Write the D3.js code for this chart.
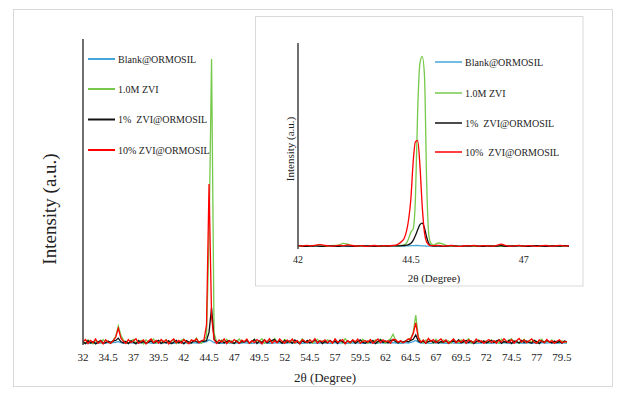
<!DOCTYPE html>
<meta charset="utf-8">
<style>
body { margin: 0; background: #fff; }
svg text { font-family: "Liberation Serif", "Times New Roman", Times, serif; fill: #222; white-space: pre; }
.frame { fill: #fff; stroke: #d9d9d9; stroke-width: 1; }
.axis-line { stroke: #404040; stroke-width: 1.5; }
.series { fill: none; stroke-width: 1.3; }
</style>
<svg width="619" height="398"></svg>
<script src="https://d3js.org/d3.v7.min.js"></script>
<script>

// series names and colours (legend order)
var seriesNames = ["Blank@ORMOSIL", "1.0M ZVI", "1%  ZVI@ORMOSIL", "10% ZVI@ORMOSIL"];
var insetNames  = ["Blank@ORMOSIL", "1.0M ZVI", "1%  ZVI@ORMOSIL", "10%  ZVI@ORMOSIL"];
var seriesColors = ["#45a6d9", "#76c94a", "#111111", "#ff0000"];
var serif = "'Liberation Serif', 'Times New Roman', serif";

// main pattern: 2theta from 32 to 80, step 0.25 deg
var mainStep = 0.25;
var mainTicks = [32, 34.5, 37, 39.5, 42, 44.5, 47, 49.5, 52, 54.5, 57, 59.5, 62, 64.5, 67, 69.5, 72, 74.5, 77, 79.5];

var blank = [
  7,8,7,6,7,8,7,7,6,7,8,7,8,9,12,8,
  7,6,7,8,7,7,6,8,7,7,8,7,6,7,8,7,
  7,8,7,7,6,7,8,9,7,7,6,7,8,7,7,8,
  9,12,18,14,8,7,7,6,7,8,7,7,8,7,6,7,
  8,7,7,6,7,8,7,7,8,7,6,7,7,8,7,7,
  6,7,8,7,7,8,7,6,7,7,8,7,7,6,7,8,
  7,7,6,7,8,7,7,8,7,6,7,7,8,7,7,6,
  7,8,7,7,6,7,8,7,7,8,7,8,7,7,6,7,
  8,7,9,12,16,10,7,7,8,7,6,7,7,8,7,7,
  6,7,8,7,7,6,7,8,7,7,8,7,6,7,7,8,
  7,7,6,7,8,7,7,8,7,6,7,7,8,7,7,6,
  7,8,7,7,6,7,8,7,7,8,7,7,6,7,8,7,
  7];

var zvi = [
  12,6,18,9,4,16,11,7,19,8,14,5,17,30,66,35,
  18,8,5,14,20,7,11,16,4,18,9,13,21,6,12,16,
  8,19,6,13,18,5,11,16,21,9,6,17,12,24,10,6,
  15,30,380,1000,40,12,7,18,10,20,8,15,5,13,21,9,
  13,18,6,11,20,9,15,22,6,13,18,8,23,10,15,6,
  19,12,8,17,6,14,10,21,12,7,18,6,13,20,10,15,
  8,18,12,6,20,10,15,7,22,12,6,18,10,15,8,20,
  12,6,15,10,18,8,20,12,6,15,22,38,17,8,12,10,
  15,20,24,45,105,30,12,8,18,10,15,6,20,12,8,18,
  10,15,6,20,12,8,18,10,15,22,6,13,8,18,10,15,
  12,8,18,10,15,6,20,12,8,18,22,10,15,6,12,20,
  8,15,10,18,6,12,20,8,15,10,18,6,13,8,15,10,
  9];

var zvi1 = [
  10,5,15,7,12,4,10,16,6,8,13,9,14,16,24,12,
  7,13,5,15,10,4,16,8,12,6,10,15,7,12,16,5,
  12,7,15,5,10,16,7,12,4,15,10,7,16,12,9,14,
  13,15,45,130,20,10,6,14,7,12,16,9,5,14,7,12,
  10,16,7,12,19,5,14,9,18,7,12,16,19,9,14,6,
  16,9,14,6,18,11,5,14,9,16,7,12,18,9,14,5,
  12,7,16,9,14,5,18,11,7,14,9,16,6,12,18,9,
  6,14,9,16,5,12,18,9,14,7,16,18,12,7,14,9,
  14,11,16,20,35,14,9,14,6,12,16,9,14,6,12,9,
  16,6,12,14,9,18,7,12,16,9,14,5,12,16,9,14,
  7,12,16,9,14,18,6,12,9,16,5,14,12,7,16,9,
  14,9,6,16,12,5,14,9,16,12,7,14,9,12,6,14,
  11];

var zvi10 = [
  11,19,5,16,8,21,6,14,4,18,10,6,15,28,59,25,
  13,5,19,8,15,22,6,12,18,4,14,21,8,16,6,19,
  11,18,4,14,21,8,16,6,19,11,4,18,13,22,8,15,
  18,70,563,100,18,6,18,10,21,5,15,8,19,12,6,17,
  11,21,6,15,8,19,13,4,18,10,22,6,15,8,21,13,
  6,18,10,21,8,15,4,19,13,8,18,10,22,6,15,11,
  18,8,15,6,21,10,13,19,4,15,8,18,11,21,6,13,
  15,10,19,6,13,21,8,18,11,15,6,20,19,10,15,8,
  13,21,20,40,77,25,10,18,6,23,13,19,8,15,21,10,
  18,6,13,21,8,15,10,19,6,18,13,8,21,11,15,6,
  13,19,8,15,6,18,10,22,13,8,19,6,15,23,10,18,
  8,15,21,10,6,18,13,8,19,10,15,6,13,18,8,11,
  12];

// inset: zoom on the main peak, 42 - 48 deg
var insetTheta = [
  42,42.1,42.2,42.3,42.4,42.5,42.6,42.7,42.8,42.9,43,43.1,43.2,43.3,43.4,43.5,43.6,43.7,43.8,43.9,44,44.1,44.2,44.3,
  44.35,44.4,44.45,44.5,44.55,44.6,44.65,44.7,44.75,44.8,44.85,44.9,44.95,
  45,45.1,45.2,45.3,45.4,45.5,45.6,45.7,45.8,45.9,46,46.1,46.2,46.3,46.4,46.5,46.6,46.7,46.8,46.9,47,47.1,47.2,47.3,47.4,47.5,47.6,47.7,47.8,47.9,48];
var insetTicks = [42, 44.5, 47];

var insetBlank = [
  11,10,10,9,10,10,11,10,9,10,10,10,9,10,10,11,10,9,10,10,10,9,10,10,
  10,11,11,12,12,13,13,12,11,11,10,10,10,
  10,10,9,10,10,11,10,10,9,10,10,10,11,10,9,10,10,10,9,10,10,11,10,10,9,10,10,10,9,10,10];
var insetZvi = [
  10,9,11,10,12,10,9,11,13,15,24,20,12,10,11,9,10,12,10,11,10,12,11,14,
  16,25,50,83,100,260,720,965,1000,900,330,60,22,
  15,26,22,12,10,11,9,10,12,10,9,11,10,12,10,9,11,10,12,11,9,10,12,10,11,9,10,12,10,11,10];
var insetZvi1 = [
  14,10,9,10,11,9,10,12,10,9,11,10,9,10,12,11,10,9,10,11,10,12,11,12,
  13,15,18,25,40,65,95,122,130,105,55,22,12,
  10,11,9,10,12,10,9,11,10,12,10,9,11,10,10,12,9,11,10,12,10,9,11,12,10,9,11,10,10,12,10];
var insetZvi10 = [
  12,10,14,11,15,18,13,11,10,14,12,16,13,10,12,9,11,13,10,12,11,13,18,35,
  50,85,150,260,450,555,560,430,220,80,30,16,12,
  12,14,10,11,13,10,9,12,11,13,10,12,11,10,14,20,12,10,11,13,10,12,11,9,12,13,10,11,14,10,12];

var svg = d3.select("svg");

// outer chart frame
svg.append("rect").attr("class", "frame")
    .attr("x", 13.5).attr("y", 9.5).attr("width", 599).attr("height", 377);

/** main chart **/
var x = d3.scaleLinear().domain([32, 80]).range([83, 567]);
var y = d3.scaleLinear().domain([0, 1070]).range([345, 39]);

function toPoints(vals) {
  return vals.map(function(v, i) { return [32 + i * mainStep, v]; });
}

var mainSeries = [blank, zvi, zvi1, zvi10].map(toPoints);

var line = d3.line()
    .x(function(d) { return x(d[0]); })
    .y(function(d) { return y(d[1]); });

var g = svg.append("g");

g.selectAll("path.series")
    .data(mainSeries)
    .enter().append("path")
    .attr("class", "series")
    .attr("stroke", function(d, i) { return seriesColors[i]; })
    .attr("d", line);

g.append("line").attr("class", "axis-line")
    .attr("x1", x(32)).attr("x2", x(32)).attr("y1", y(1070)).attr("y2", y(0));

g.selectAll("text.tick")
    .data(mainTicks)
    .enter().append("text")
    .attr("class", "tick")
    .attr("x", function(d) { return x(d); })
    .attr("y", 361)
    .attr("text-anchor", "middle")
    .attr("font-family", serif)
    .style("font-size", "11px")
    .text(function(d) { return d; });

g.append("text")
    .attr("x", 325).attr("y", 382)
    .attr("text-anchor", "middle")
    .attr("font-family", serif)
    .style("font-size", "13px")
    .text("2θ (Degree)");

g.append("text")
    .attr("transform", "translate(56,209) rotate(-90)")
    .attr("text-anchor", "middle")
    .attr("font-family", serif)
    .style("font-size", "19px")
    .text("Intensity (a.u.)");

// legend
var legend = g.selectAll("g.legend")
    .data(seriesNames)
    .enter().append("g")
    .attr("transform", function(d, i) { return "translate(88," + [59, 89, 119.5, 150][i] + ")"; });
legend.append("line")
    .attr("x1", 0).attr("x2", 27)
    .attr("stroke-width", 2)
    .attr("stroke", function(d, i) { return seriesColors[i]; });
legend.append("text")
    .attr("x", 30).attr("y", 3.5)
    .attr("font-family", serif)
    .style("font-size", "10px")
    .text(function(d) { return d; });

/** inset **/
var ix = d3.scaleLinear().domain([42, 48]).range([298, 569]);
var iy = d3.scaleLinear().domain([0, 1070]).range([248, 43]);

var ins = svg.append("g");
ins.append("rect").attr("class", "frame")
    .attr("x", 255.5).attr("y", 16.5).attr("width", 327.5).attr("height", 269.5);

var insetSeries = [insetBlank, insetZvi, insetZvi1, insetZvi10].map(function(vals) {
  return vals.map(function(v, i) { return [insetTheta[i], v]; });
});

var iline = d3.line()
    .curve(d3.curveMonotoneX)
    .x(function(d) { return ix(d[0]); })
    .y(function(d) { return iy(d[1]); });

ins.selectAll("path.series")
    .data(insetSeries)
    .enter().append("path")
    .attr("class", "series")
    .attr("stroke", function(d, i) { return seriesColors[i]; })
    .attr("d", iline);

ins.append("line").attr("class", "axis-line")
    .attr("x1", ix(42)).attr("x2", ix(42)).attr("y1", iy(1070)).attr("y2", iy(0) + 1);

ins.selectAll("text.tick")
    .data(insetTicks)
    .enter().append("text")
    .attr("class", "tick")
    .attr("x", function(d) { return ix(d); })
    .attr("y", 263)
    .attr("text-anchor", "middle")
    .attr("font-family", serif)
    .style("font-size", "10px")
    .text(function(d) { return d; });

ins.append("text")
    .attr("x", 434).attr("y", 282)
    .attr("text-anchor", "middle")
    .attr("font-family", serif)
    .style("font-size", "11px")
    .text("2θ (Degree)");

ins.append("text")
    .attr("transform", "translate(294,149) rotate(-90)")
    .attr("text-anchor", "middle")
    .attr("font-family", serif)
    .style("font-size", "11px")
    .text("Intensity (a.u.)");

var ilegend = ins.selectAll("g.legend")
    .data(insetNames)
    .enter().append("g")
    .attr("transform", function(d, i) { return "translate(435," + [62, 93, 123, 152][i] + ")"; });
ilegend.append("line")
    .attr("x1", 0).attr("x2", 27)
    .attr("stroke-width", 1.5)
    .attr("stroke", function(d, i) { return seriesColors[i]; });
ilegend.append("text")
    .attr("x", 30).attr("y", 3.5)
    .attr("font-family", serif)
    .style("font-size", "10px")
    .text(function(d) { return d; });

</script>
